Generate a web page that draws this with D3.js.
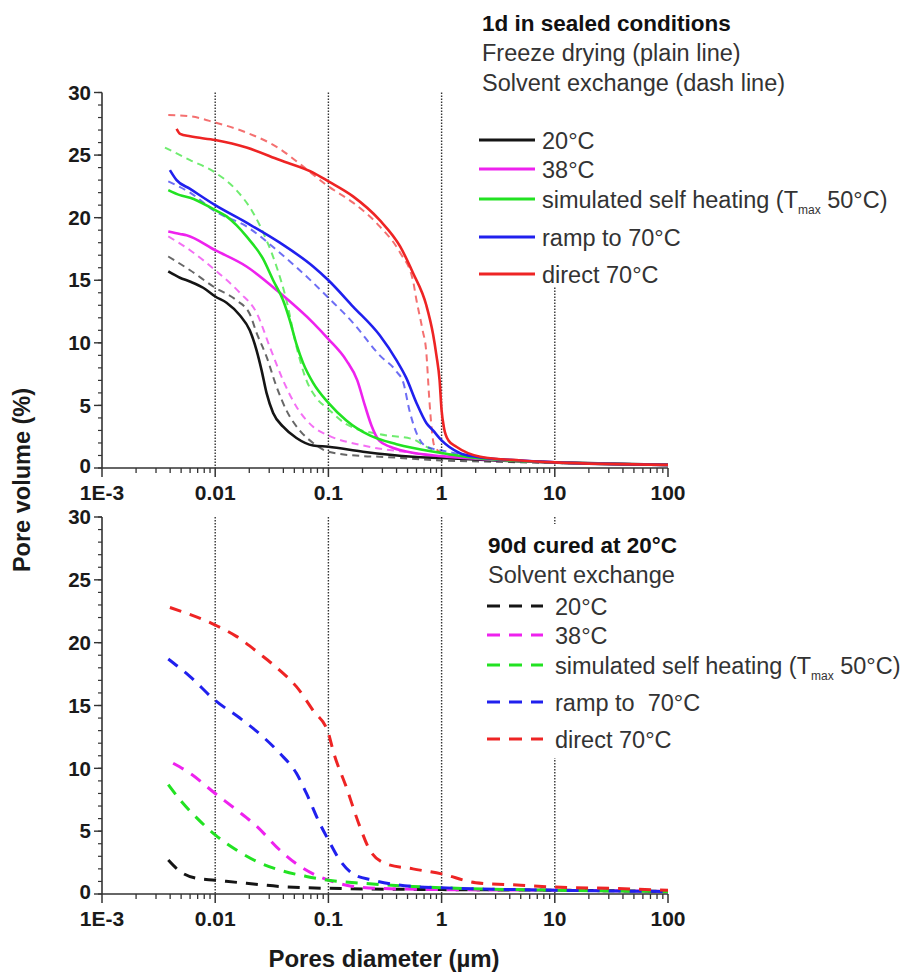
<!DOCTYPE html>
<html>
<head>
<meta charset="utf-8">
<script src="https://cdn.jsdelivr.net/npm/d3@7"></script>
<style>
  html, body { margin: 0; padding: 0; background: #fff; }
  svg { display: block; font-family: "Liberation Sans", Arial, sans-serif; }
</style>
</head>
<body>
<svg id="chart" width="913" height="974"></svg>
<script>
// ---------- DATA (pore diameter in µm, pore volume in %) ----------
// Top panel: 1d in sealed conditions — freeze drying (solid)
const top_FD_20C_d  = [0.00385, 0.00488, 0.00597, 0.00783, 0.01, 0.0126, 0.0165, 0.0202, 0.0232, 0.0257, 0.0284, 0.0325, 0.0398, 0.0522, 0.0733, 0.1, 0.202, 0.558, 1, 3, 10, 30, 100];
const top_FD_20C_v  = [15.7, 15.2, 14.9, 14.4, 13.7, 13.2, 12.2, 11.0, 9.4, 7.8, 6.0, 4.4, 3.3, 2.4, 1.8, 1.7, 1.3, 0.9, 0.8, 0.6, 0.45, 0.35, 0.25];
const top_FD_38C_d  = [0.00385, 0.00488, 0.00558, 0.01, 0.0189, 0.0372, 0.0733, 0.1, 0.144, 0.18, 0.21, 0.24, 0.28, 0.35, 0.5, 1, 2, 10, 100];
const top_FD_38C_v  = [18.9, 18.7, 18.6, 17.4, 16.1, 14.0, 11.6, 10.3, 8.6, 7.0, 5.0, 3.4, 2.2, 1.7, 1.3, 0.95, 0.75, 0.45, 0.25];
const top_FD_SSH_d  = [0.00385, 0.00488, 0.006, 0.01, 0.0126, 0.0154, 0.0189, 0.0265, 0.0325, 0.0398, 0.0456, 0.0522, 0.0597, 0.0733, 0.1, 0.144, 0.232, 0.4, 1, 2, 10, 100];
const top_FD_SSH_v  = [22.2, 21.8, 21.6, 20.6, 20.1, 19.4, 18.5, 16.7, 15.0, 13.4, 11.8, 9.9, 8.4, 6.8, 5.2, 3.8, 2.6, 1.9, 1.2, 0.8, 0.45, 0.25];
const top_FD_ramp_d = [0.00398, 0.00456, 0.006, 0.01, 0.0189, 0.0372, 0.0733, 0.1, 0.165, 0.284, 0.4, 0.487, 0.6, 0.733, 0.84, 1, 1.44, 2, 5, 10, 100];
const top_FD_ramp_v = [23.8, 23.0, 22.3, 21.0, 19.6, 18.0, 16.1, 15.0, 12.9, 10.6, 8.6, 7.2, 5.2, 3.6, 3.0, 2.2, 1.2, 0.9, 0.6, 0.45, 0.25];
const top_FD_dir_d  = [0.00456, 0.0049, 0.006, 0.01, 0.0189, 0.0372, 0.0733, 0.1, 0.165, 0.284, 0.43, 0.558, 0.733, 0.84, 0.9, 0.96, 1.0, 1.05, 1.15, 1.35, 2.2, 5, 10, 100];
const top_FD_dir_v  = [27.1, 26.7, 26.5, 26.2, 25.6, 24.6, 23.6, 22.9, 21.7, 19.8, 17.7, 15.6, 13.0, 10.7, 9.0, 7.0, 4.6, 3.2, 2.2, 1.7, 0.9, 0.6, 0.45, 0.25];
// Top panel: solvent exchange (dashed)
const top_SE_20C_d  = [0.00385, 0.006, 0.01, 0.0154, 0.0202, 0.0232, 0.0284, 0.0348, 0.0426, 0.0558, 0.0733, 0.1, 0.202, 0.284, 1, 3, 10, 100];
const top_SE_20C_v  = [16.9, 15.8, 14.4, 13.4, 12.3, 10.8, 8.9, 6.5, 4.6, 3.0, 2.0, 1.3, 0.95, 0.9, 0.6, 0.5, 0.4, 0.25];
const top_SE_38C_d  = [0.00385, 0.006, 0.01, 0.0165, 0.0232, 0.0303, 0.0398, 0.0522, 0.0733, 0.1, 0.202, 0.558, 1, 2, 10, 100];
const top_SE_38C_v  = [18.5, 17.4, 15.8, 14.0, 12.4, 9.7, 7.0, 4.9, 3.3, 2.6, 1.8, 1.2, 0.9, 0.7, 0.45, 0.25];
const top_SE_SSH_d  = [0.0036, 0.006, 0.01, 0.0154, 0.0216, 0.0284, 0.0348, 0.0426, 0.0522, 0.064, 0.0783, 0.1, 0.144, 0.284, 0.558, 0.73, 1, 2, 10, 100];
const top_SE_SSH_v  = [25.6, 24.6, 23.6, 22.2, 20.4, 18.2, 16.1, 13.4, 9.7, 7.0, 5.6, 4.7, 3.5, 2.7, 2.3, 1.7, 1.2, 0.8, 0.45, 0.25];
const top_SE_ramp_d = [0.00385, 0.006, 0.01, 0.0189, 0.0372, 0.0733, 0.1, 0.165, 0.284, 0.4, 0.46, 0.52, 0.62, 0.74, 1, 2, 10, 100];
const top_SE_ramp_v = [22.9, 22.0, 20.5, 19.3, 17.2, 14.8, 13.6, 11.6, 9.0, 7.7, 6.8, 4.6, 2.5, 1.7, 1.4, 0.9, 0.45, 0.25];
const top_SE_dir_d  = [0.00385, 0.006, 0.01, 0.0189, 0.0372, 0.0558, 0.1, 0.165, 0.284, 0.43, 0.558, 0.6, 0.68, 0.73, 0.78, 0.82, 0.86, 1, 2, 10, 100];
const top_SE_dir_v  = [28.2, 28.1, 27.6, 26.8, 25.5, 24.3, 22.5, 21.2, 19.3, 17.2, 15.0, 13.4, 11.0, 9.4, 5.4, 3.0, 1.8, 1.2, 0.85, 0.45, 0.25];
// Bottom panel: 90d cured at 20°C — solvent exchange (dashed)
const bot_SE_20C_d  = [0.00385, 0.00488, 0.0068, 0.01, 0.0189, 0.0372, 0.1, 1, 10, 100];
const bot_SE_20C_v  = [2.7, 1.8, 1.25, 1.1, 0.85, 0.6, 0.45, 0.35, 0.3, 0.2];
const bot_SE_38C_d  = [0.00425, 0.006, 0.01, 0.0154, 0.0232, 0.0372, 0.0522, 0.0733, 0.1, 0.144, 0.284, 1, 10, 100];
const bot_SE_38C_v  = [10.4, 9.6, 8.0, 6.7, 5.4, 3.5, 2.4, 1.6, 1.1, 0.7, 0.45, 0.35, 0.3, 0.2];
const bot_SE_SSH_d  = [0.00385, 0.00488, 0.0068, 0.01, 0.0154, 0.0232, 0.0372, 0.064, 0.1, 0.202, 0.558, 1, 10, 100];
const bot_SE_SSH_v  = [8.7, 7.5, 6.1, 4.7, 3.5, 2.6, 1.9, 1.4, 1.1, 0.85, 0.6, 0.5, 0.3, 0.2];
const bot_SE_ramp_d = [0.00385, 0.006, 0.01, 0.0165, 0.0265, 0.0372, 0.0522, 0.064, 0.084, 0.1, 0.126, 0.165, 0.248, 0.558, 1, 10, 100];
const bot_SE_ramp_v = [18.7, 17.3, 15.4, 14.0, 12.5, 11.2, 9.6, 8.0, 5.6, 4.3, 2.7, 1.6, 1.1, 0.6, 0.5, 0.3, 0.2];
const bot_SE_dir_d  = [0.00398, 0.01, 0.0154, 0.0248, 0.0372, 0.0522, 0.0733, 0.1, 0.11, 0.144, 0.189, 0.232, 0.325, 0.558, 1, 2, 5, 10, 30, 100];
const bot_SE_dir_v  = [22.8, 21.4, 20.5, 19.1, 17.8, 16.5, 14.6, 12.8, 11.4, 8.5, 5.4, 3.5, 2.4, 2.0, 1.6, 0.9, 0.7, 0.55, 0.45, 0.3];

// Axis ticks & labels
const xTickValues = [0.001, 0.01, 0.1, 1, 10, 100];
const xTickLabels = ["1E-3", "0.01", "0.1", "1", "10", "100"];
const yTickValues = [0, 5, 10, 15, 20, 25, 30];
const gridValues  = [0.01, 0.1, 1, 10];

// Legend texts
const topLegendHeader = ["1d in sealed conditions", "Freeze drying (plain line)", "Solvent exchange (dash line)"];
const botLegendHeader = ["90d cured at 20°C", "Solvent exchange"];
const topLegendLabels = ["20°C", "38°C", "simulated self heating", "ramp to 70°C", "direct 70°C"];
const botLegendLabels = ["20°C", "38°C", "simulated self heating", "ramp to\u00a0 70°C", "direct 70°C"];
const xAxisTitle = "Pores diameter (µm)";
const yAxisTitle = "Pore volume (%)";

// ---------- DRAWING ----------
const colors = ["#151515", "#ee22ee", "#22e222", "#2020ee", "#ee2424"];
const svg = d3.select("#chart");

const x = d3.scaleLog().domain([1e-3, 100]).range([102, 668]);
const yTop = d3.scaleLinear().domain([0, 30]).range([468, 92.5]);
const yBot = d3.scaleLinear().domain([0, 30]).range([894, 517]);

const topFD = [[top_FD_20C_d, top_FD_20C_v], [top_FD_38C_d, top_FD_38C_v], [top_FD_SSH_d, top_FD_SSH_v], [top_FD_ramp_d, top_FD_ramp_v], [top_FD_dir_d, top_FD_dir_v]];
const topSE = [[top_SE_20C_d, top_SE_20C_v], [top_SE_38C_d, top_SE_38C_v], [top_SE_SSH_d, top_SE_SSH_v], [top_SE_ramp_d, top_SE_ramp_v], [top_SE_dir_d, top_SE_dir_v]];
const botSE = [[bot_SE_20C_d, bot_SE_20C_v], [bot_SE_38C_d, bot_SE_38C_v], [bot_SE_SSH_d, bot_SE_SSH_v], [bot_SE_ramp_d, bot_SE_ramp_v], [bot_SE_dir_d, bot_SE_dir_v]];

function panel(y) {
  const g = svg.append("g");
  g.selectAll("line.grid").data(gridValues).join("line")
    .attr("x1", d => x(d)).attr("x2", d => x(d))
    .attr("y1", y(30)).attr("y2", y(0))
    .attr("stroke", "#333").attr("stroke-width", 1.4).attr("stroke-dasharray", "1.5,1.5");
  return g;
}

function drawCurves(g, y, series, style) {
  const line = d3.line().x(p => x(p[0])).y(p => y(p[1])).curve(d3.curveMonotoneX);
  series.forEach((s, i) => {
    const pts = s[0].map((d, k) => [d, s[1][k]]);
    g.append("path").attr("d", line(pts))
      .attr("fill", "none").attr("stroke", colors[i])
      .attr("stroke-width", style.w)
      .attr("stroke-dasharray", style.dash || null)
      .attr("stroke-opacity", style.op || 1)
      .attr("stroke-linecap", "butt").attr("stroke-linejoin", "round");
  });
}

function axes(g, y, labelBaseline) {
  const ax = g.append("g").attr("transform", `translate(0,${y(0)})`);
  const minor = [];
  for (let e = -3; e < 2; e++) for (let m = 2; m <= 9; m++) minor.push(m * Math.pow(10, e));
  ax.selectAll("line.minor").data(minor).join("line")
    .attr("x1", d => x(d)).attr("x2", d => x(d)).attr("y1", 0).attr("y2", 5)
    .attr("stroke", "#333").attr("stroke-width", 1.3);
  ax.selectAll("line.major").data(xTickValues).join("line")
    .attr("x1", d => x(d)).attr("x2", d => x(d)).attr("y1", 0).attr("y2", 9)
    .attr("stroke", "#333").attr("stroke-width", 1.5);
  ax.append("line").attr("x1", x(1e-3)).attr("x2", x(100)).attr("y1", 0).attr("y2", 0)
    .attr("stroke", "#333").attr("stroke-width", 1.6);
  g.selectAll("text.xl").data(xTickValues).join("text")
    .attr("x", d => x(d)).attr("y", labelBaseline)
    .attr("text-anchor", "middle").attr("font-weight", "bold").attr("font-size", 21).attr("fill", "#1a1a1a")
    .text((d, i) => xTickLabels[i]);

  const ay = g.append("g").attr("transform", `translate(${x(1e-3)},0)`);
  ay.selectAll("line.yminor").data(d3.range(0, 31)).join("line")
    .attr("x1", -4).attr("x2", 0).attr("y1", d => y(d)).attr("y2", d => y(d))
    .attr("stroke", "#333").attr("stroke-width", 1.2);
  ay.selectAll("line.ymajor").data(yTickValues).join("line")
    .attr("x1", -8).attr("x2", 0).attr("y1", d => y(d)).attr("y2", d => y(d))
    .attr("stroke", "#333").attr("stroke-width", 1.4);
  ay.append("line").attr("x1", 0).attr("x2", 0).attr("y1", y(0)).attr("y2", y(30))
    .attr("stroke", "#333").attr("stroke-width", 1.6);
  ay.selectAll("text").data(yTickValues).join("text")
    .attr("x", -11).attr("y", d => y(d)).attr("dy", d => d === 0 ? "0.25em" : "0.35em")
    .attr("text-anchor", "end").attr("font-weight", "bold").attr("font-size", 20.5).attr("fill", "#1a1a1a")
    .text(d => d);
}

// Top panel
const gTop = panel(yTop);
drawCurves(gTop, yTop, topSE, { w: 2, dash: "7,5", op: 0.65 });
drawCurves(gTop, yTop, topFD, { w: 2.6 });
axes(gTop, yTop, 500);

// Bottom panel
const gBot = panel(yBot);
drawCurves(gBot, yBot, botSE, { w: 3, dash: "12,9" });
axes(gBot, yBot, 926);

// Legend backgrounds (hide grid lines behind legend)
svg.append("rect").attr("x", 470).attr("y", 0).attr("width", 443).attr("height", 287).attr("fill", "#fff");
svg.append("rect").attr("x", 470).attr("y", 524).attr("width", 443).attr("height", 234).attr("fill", "#fff");

function legendHeader(lines, x0, y0, step) {
  lines.forEach((t, i) => {
    svg.append("text").attr("x", x0).attr("y", y0 + i * step)
      .attr("font-size", i === 0 ? 22.5 : 23.5).attr("font-weight", i === 0 ? "bold" : "normal")
      .attr("fill", i === 0 ? "#111" : "#333").text(t);
  });
}
function legendItems(labels, ys, lx0, lx1, tx, style) {
  labels.forEach((t, i) => {
    svg.append("line").attr("x1", lx0).attr("x2", lx1).attr("y1", ys[i]).attr("y2", ys[i])
      .attr("stroke", colors[i]).attr("stroke-width", 3).attr("stroke-dasharray", style.dash || null);
    const txt = svg.append("text").attr("x", tx).attr("y", ys[i] + 8.5)
      .attr("font-size", 23.5).attr("fill", "#333");
    txt.append("tspan").text(t);
    if (i === 2) {
      txt.append("tspan").text(" (T");
      txt.append("tspan").attr("font-size", 12).attr("dy", 6).text("max");
      txt.append("tspan").attr("dy", -6).text(" 50°C)");
    }
  });
}

legendHeader(topLegendHeader, 482, 31, 30);
legendItems(topLegendLabels, [140, 169, 199, 237, 274], 479, 535, 542, {});
legendHeader(botLegendHeader, 488, 553, 30);
legendItems(botLegendLabels, [606, 635, 665, 702, 739], 487, 543, 555, { dash: "13,9" });

// Axis titles
svg.append("text").attr("transform", "translate(30,480) rotate(-90)")
  .attr("text-anchor", "middle").attr("font-weight", "bold").attr("font-size", 23.5).attr("fill", "#1a1a1a")
  .text(yAxisTitle);
svg.append("text").attr("x", 384).attr("y", 967)
  .attr("text-anchor", "middle").attr("font-weight", "bold").attr("font-size", 24).attr("fill", "#1a1a1a")
  .text(xAxisTitle);
</script>
</body>
</html>
